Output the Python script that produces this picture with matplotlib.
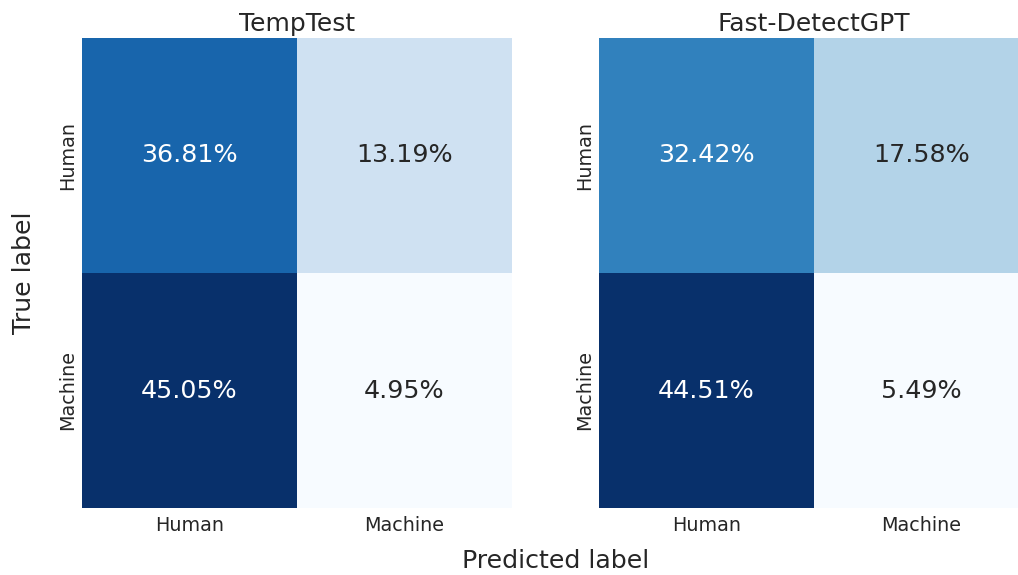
import numpy as np
import matplotlib
matplotlib.use("Agg")
from matplotlib import pyplot as plt
import seaborn as sns

labels = ["Human", "Machine"]
titles = ["TempTest", "Fast-DetectGPT"]
temptest = np.array([[36.81, 13.19],
                     [45.05, 4.95]])
fast_detect = np.array([[32.42, 17.58],
                        [44.51, 5.49]])

sns.set_theme(style="white")
plt.rcParams['font.family'] = ['DejaVu Sans']

fig = plt.figure(figsize=(10.18, 5.75), dpi=100)
W, H = 1018, 575
ax1 = fig.add_axes([82 / W, 1 - 508 / H, 430 / W, 470 / H])
ax2 = fig.add_axes([599 / W, 1 - 508 / H, 430 / W, 470 / H])

for ax, data, title in zip((ax1, ax2), (temptest, fast_detect), titles):
    annot = np.array([[f"{v:.2f}%" for v in row] for row in data])
    sns.heatmap(data, ax=ax, cmap="Blues", cbar=False, annot=annot, fmt="",
                annot_kws={"fontsize": 18.3}, xticklabels=labels, yticklabels=labels)
    ax.set_title(title, fontsize=18, color="#262626", pad=5)
    ax.tick_params(axis="both", labelsize=13.8, length=0, colors="#262626")
    ax.tick_params(axis="x", pad=6)
    ax.set_yticklabels(labels, rotation=90, va="center")

fig.text(24 / W, 1 - 273 / H, "True label", rotation=90, fontsize=18.2,
         ha="center", va="center", color="#262626")
fig.text(556 / W, 1 - 561 / H, "Predicted label", fontsize=18.2,
         ha="center", va="center", color="#262626")

fig.savefig("out.png", dpi=100)
